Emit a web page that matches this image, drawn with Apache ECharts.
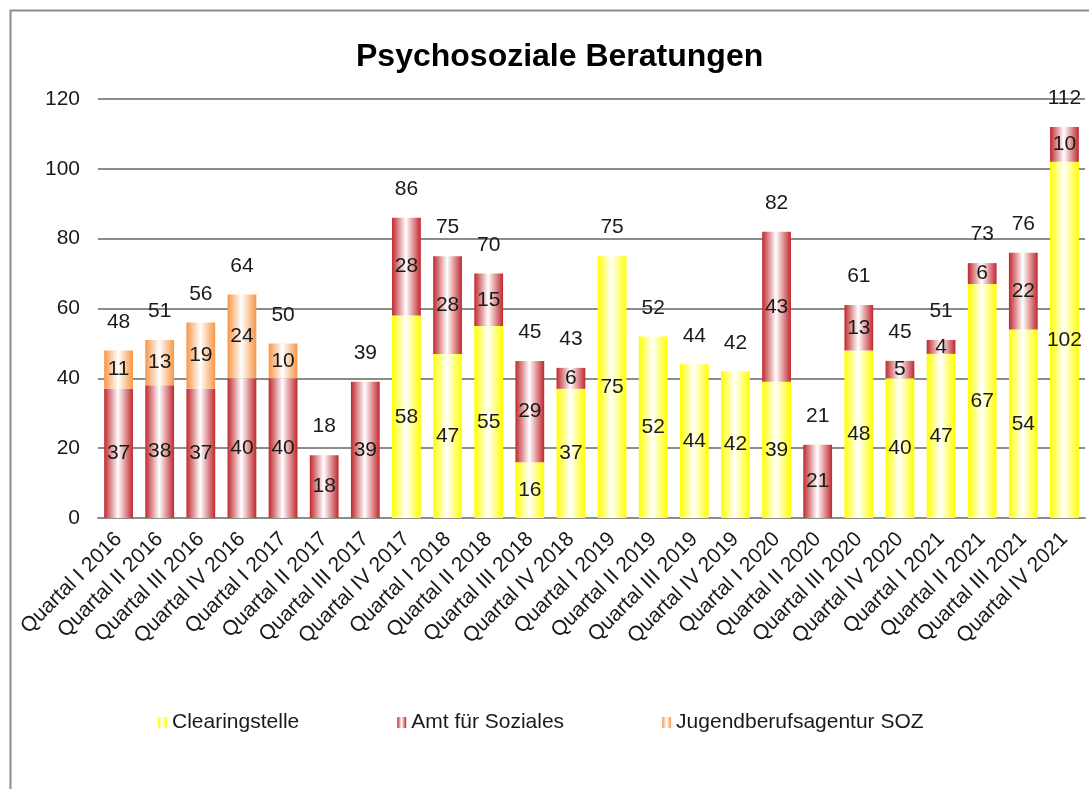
<!DOCTYPE html>
<html>
<head>
<meta charset="utf-8">
<script src="https://cdn.jsdelivr.net/npm/echarts@6/dist/echarts.min.js"></script>
<style>
  html, body { margin: 0; padding: 0; background: #fff; }
  #chart { width: 1089px; height: 789px; }
</style>
</head>
<body>
<div id="chart"></div>
<script>
// data
const categories = [
  "Quartal I 2016", "Quartal II 2016", "Quartal III 2016", "Quartal IV 2016",
  "Quartal I 2017", "Quartal II 2017", "Quartal III 2017", "Quartal IV 2017",
  "Quartal I 2018", "Quartal II 2018", "Quartal III 2018", "Quartal IV 2018",
  "Quartal I 2019", "Quartal II 2019", "Quartal III 2019", "Quartal IV 2019",
  "Quartal I 2020", "Quartal II 2020", "Quartal III 2020", "Quartal IV 2020",
  "Quartal I 2021", "Quartal II 2021", "Quartal III 2021", "Quartal IV 2021"
];
const clearingstelle = [0, 0, 0, 0, 0, 0, 0, 58, 47, 55, 16, 37, 75, 52, 44, 42, 39, 0, 48, 40, 47, 67, 54, 102];
const amtSoziales    = [37, 38, 37, 40, 40, 18, 39, 28, 28, 15, 29, 6, 0, 0, 0, 0, 43, 21, 13, 5, 4, 6, 22, 10];
const jugendAgentur  = [11, 13, 19, 24, 10, 0, 0, 0, 0, 0, 0, 0, 0, 0, 0, 0, 0, 0, 0, 0, 0, 0, 0, 0];
const totals = categories.map((c, i) => clearingstelle[i] + amtSoziales[i] + jugendAgentur[i]);

const font = "Liberation Sans, Arial, sans-serif";

function stripe(color) {
  return {
    type: "linear", x: 0, y: 0, x2: 1, y2: 0,
    colorStops: [
      { offset: 0, color: color },
      { offset: 0.48, color: "#ffffff" },
      { offset: 1, color: color }
    ]
  };
}

const segLabel = {
  show: true,
  position: "inside",
  color: "#1a1a1a",
  fontSize: 21,
  fontFamily: font,
  formatter: function (p) { return p.value ? p.value : ""; }
};

function barSeries(name, data, color) {
  return {
    name: name,
    type: "bar",
    stack: "total",
    data: data,
    barWidth: "70%",
    itemStyle: { color: stripe(color) },
    label: segLabel,
    emphasis: { disabled: true }
  };
}

const myChart = echarts.init(document.getElementById("chart"));

const option = {
  animation: false,
  backgroundColor: "#ffffff",
  title: {
    text: "Psychosoziale Beratungen",
    left: 351,
    top: 36,
    textStyle: { fontFamily: font, fontSize: 32, fontWeight: "bold", color: "#000" }
  },
  legend: {
    left: 153,
    top: 707,
    itemWidth: 9,
    itemHeight: 11,
    itemGap: 98,
    icon: "rect",
    data: ["Clearingstelle", "Amt für Soziales", "Jugendberufsagentur SOZ"],
    textStyle: { fontFamily: font, fontSize: 21, color: "#1a1a1a" }
  },
  grid: { left: 98, right: 4, top: 99, bottom: 271 },
  xAxis: {
    type: "category",
    data: categories,
    axisTick: { show: false },
    axisLine: { lineStyle: { color: "#8c8c8c", width: 2 } },
    axisLabel: {
      interval: 0,
      rotate: 45,
      margin: 18,
      fontFamily: font,
      fontSize: 21,
      color: "#1a1a1a"
    }
  },
  yAxis: {
    type: "value",
    min: 0,
    max: 120,
    interval: 20,
    axisLine: { show: false },
    axisTick: { show: false },
    splitLine: { lineStyle: { color: "#8c8c8c", width: 2 } },
    axisLabel: { margin: 18, fontFamily: font, fontSize: 21, color: "#1a1a1a" }
  },
  series: [
    barSeries("Clearingstelle", clearingstelle, "#ffff00"),
    barSeries("Amt für Soziales", amtSoziales, "#c0272d"),
    barSeries("Jugendberufsagentur SOZ", jugendAgentur, "#f79646"),
    {
      name: "Summe",
      type: "scatter",
      data: totals,
      symbolSize: 0,
      silent: true,
      itemStyle: { opacity: 1 },
      label: {
        show: true,
        position: "top",
        distance: 18,
        color: "#1a1a1a",
        opacity: 1,
        fontSize: 21,
        fontFamily: font
      }
    }
  ],
  graphic: [
    {
      type: "rect",
      left: 8,
      top: 8,
      shape: { width: 1100, height: 800 },
      style: { fill: null, stroke: "#8c8c8c", lineWidth: 2 },
      silent: true
    }
  ]
};

myChart.setOption(option);
</script>
</body>
</html>
